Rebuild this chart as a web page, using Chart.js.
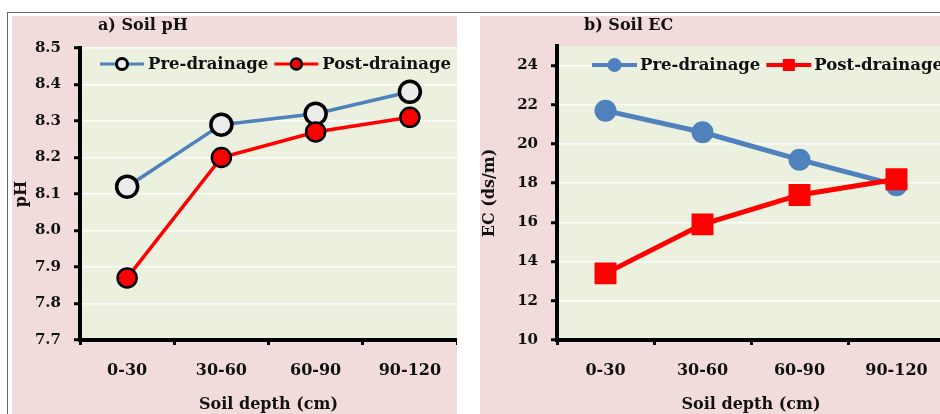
<!DOCTYPE html>
<html>
<head>
<meta charset="utf-8">
<script src="https://cdn.jsdelivr.net/npm/chart.js@4.4.0/dist/chart.umd.min.js"></script>
<style>
  html, body { margin: 0; padding: 0; background: #fff; width: 940px; height: 414px; overflow: hidden; }
  .frame { position: absolute; left: 7px; top: 12px; width: 940px; height: 410px; border-top: 1px solid #666; border-left: 1px solid #666; }
  .panel { position: absolute; top: 16px; height: 398px; background: #f2dcdb; }
  #panelA { left: 12px; width: 445px; }
  #panelB { left: 480px; width: 465px; }
</style>
</head>
<body>
<div class="frame"></div>
<div class="panel" id="panelA"><canvas id="phChart" width="445" height="398"></canvas></div>
<div class="panel" id="panelB"><canvas id="ecChart" width="465" height="398"></canvas></div>

<script>
const depths = ['0-30', '30-60', '60-90', '90-120'];
const seriesNames = ['Pre-drainage', 'Post-drainage'];

const phPre = [8.12, 8.29, 8.32, 8.38];
const phPost = [7.87, 8.20, 8.27, 8.31];
const phTicks = [7.7, 7.8, 7.9, 8.0, 8.1, 8.2, 8.3, 8.4, 8.5];

const ecPre = [21.7, 20.6, 19.2, 17.9];
const ecPost = [13.4, 15.9, 17.4, 18.2];
const ecTicks = [10, 12, 14, 16, 18, 20, 22, 24];

const titles = ['a) Soil pH', 'b) Soil EC'];
const xTitle = 'Soil depth (cm)';

const serif = 'DejaVu Serif';

// light green plot area
const plotBg = {
    id: 'plotBg',
    beforeDraw(chart) {
        const { ctx, chartArea: a } = chart;
        ctx.save();
        ctx.fillStyle = '#ebf1de';
        ctx.fillRect(a.left, a.top, a.right - a.left, a.bottom - a.top);
        ctx.restore();
    }
};

function drawMarker(ctx, ds, x, y, r) {
    ctx.fillStyle = ds.pointBackgroundColor;
    ctx.strokeStyle = ds.pointBorderColor;
    ctx.lineWidth = ds.legendBorder;
    ctx.beginPath();
    if (ds.pointStyle === 'rect') {
        ctx.rect(x - r, y - r, 2 * r, 2 * r);
    } else {
        ctx.arc(x, y, r, 0, Math.PI * 2);
    }
    ctx.fill();
    if (ds.legendBorder > 0) ctx.stroke();
}

// legend inside the plot area: line + marker + label
const lineLegend = {
    id: 'lineLegend',
    afterDatasetsDraw(chart, args, opts) {
        const { ctx, chartArea: a } = chart;
        ctx.save();
        ctx.font = 'bold ' + opts.size + 'px "' + serif + '"';
        ctx.textBaseline = 'middle';
        let x = a.left + opts.left;
        const y = a.top + opts.top;
        chart.data.datasets.forEach(ds => {
            ctx.strokeStyle = ds.borderColor;
            ctx.lineWidth = ds.legendLine;
            ctx.beginPath();
            ctx.moveTo(x, y);
            ctx.lineTo(x + opts.lineLen, y);
            ctx.stroke();
            drawMarker(ctx, ds, x + opts.lineLen / 2, y, ds.legendRadius);
            x += opts.lineLen + opts.gap;
            ctx.fillStyle = '#111';
            ctx.fillText(ds.label, x, y + 1);
            x += ctx.measureText(ds.label).width + opts.itemGap;
        });
        ctx.restore();
    }
};

const panelTitle = {
    id: 'panelTitle',
    afterDraw(chart, args, opts) {
        const { ctx, chartArea: a } = chart;
        ctx.save();
        ctx.font = 'bold 16px "' + serif + '"';
        ctx.textBaseline = 'middle';
        ctx.fillStyle = '#111';
        ctx.fillText(opts.text, a.left + opts.left, opts.y);
        ctx.restore();
    }
};

function makeScales(ticks, yMin, yMax, yLabel, yWidth, fmt) {
    return {
        x: {
            offset: true,
            afterFit: s => {
                s.height = 74;
                s.paddingLeft = 0;
                s.paddingRight = 0;
            },
            border: { color: '#000', width: 4 },
            grid: { offset: true, drawOnChartArea: false, tickColor: '#000', tickWidth: 3, tickLength: 5 },
            ticks: {
                color: '#111', padding: 16, maxRotation: 0, autoSkip: false,
                font: { family: serif, weight: 'bold', size: 16 }
            },
            title: {
                display: true, text: xTitle, color: '#111', padding: { top: 12, bottom: 0 },
                font: { family: serif, weight: 'bold', size: 16 }
            }
        },
        y: {
            min: yMin,
            max: yMax,
            afterBuildTicks: s => { s.ticks = ticks.map(v => ({ value: v })); },
            afterFit: s => { s.width = yWidth; },
            border: { color: '#000', width: 4 },
            grid: { color: 'rgba(255,255,255,0.9)', lineWidth: 1.5, tickColor: '#000', tickWidth: 3, tickLength: 6 },
            ticks: {
                color: '#111', padding: 13,
                font: { family: serif, weight: 'bold', size: 15 },
                callback: fmt
            },
            title: {
                display: true, text: yLabel, color: '#111', padding: 0,
                font: { family: serif, weight: 'bold', size: 16 }
            }
        }
    };
}

new Chart(document.getElementById('phChart'), {
    type: 'line',
    data: {
        labels: depths,
        datasets: [
            {
                label: seriesNames[0],
                data: phPre,
                order: 1,
                borderColor: '#4f81bd',
                borderWidth: 3.5,
                pointRadius: 10.5,
                pointBackgroundColor: '#ececec',
                pointBorderColor: '#000',
                pointBorderWidth: 3.5,
                legendLine: 3,
                legendRadius: 5.5,
                legendBorder: 3
            },
            {
                label: seriesNames[1],
                data: phPost,
                order: 0,
                borderColor: '#ff0000',
                borderWidth: 3.5,
                pointRadius: 9.5,
                pointBackgroundColor: '#ff0000',
                pointBorderColor: '#000',
                pointBorderWidth: 2.5,
                legendLine: 3,
                legendRadius: 5.5,
                legendBorder: 2.5
            }
        ]
    },
    options: {
        responsive: false,
        animation: false,
        devicePixelRatio: 1,
        layout: { autoPadding: false, padding: { top: 32, left: 0, right: 0, bottom: 0 } },
        scales: makeScales(phTicks, 7.7, 8.5, 'pH', 68, v => v.toFixed(1)),
        plugins: {
            legend: { display: false },
            tooltip: { enabled: false },
            lineLegend: { left: 20, top: 16, lineLen: 44, gap: 4, itemGap: 6, size: 16.5 },
            panelTitle: { text: titles[0], left: 18, y: 10 }
        }
    },
    plugins: [plotBg, lineLegend, panelTitle]
});

new Chart(document.getElementById('ecChart'), {
    type: 'line',
    data: {
        labels: depths,
        datasets: [
            {
                label: seriesNames[0],
                data: ecPre,
                order: 1,
                borderColor: '#4f81bd',
                borderWidth: 5,
                pointRadius: 11,
                pointStyle: 'circle',
                pointBackgroundColor: '#4f81bd',
                pointBorderColor: '#4f81bd',
                pointBorderWidth: 0,
                legendLine: 4,
                legendRadius: 7,
                legendBorder: 0
            },
            {
                label: seriesNames[1],
                data: ecPost,
                order: 0,
                borderColor: '#ff0000',
                borderWidth: 5,
                pointRadius: 15.5,
                pointStyle: 'rect',
                pointBackgroundColor: '#ff0000',
                pointBorderColor: '#ff0000',
                pointBorderWidth: 0,
                legendLine: 4,
                legendRadius: 6,
                legendBorder: 0
            }
        ]
    },
    options: {
        responsive: false,
        animation: false,
        devicePixelRatio: 1,
        layout: { autoPadding: false, padding: { top: 30, left: 0, right: 0, bottom: 0 } },
        scales: makeScales(ecTicks, 10, 25, 'EC (ds/m)', 77, v => String(v)),
        plugins: {
            legend: { display: false },
            tooltip: { enabled: false },
            lineLegend: { left: 35, top: 19, lineLen: 45, gap: 3, itemGap: 6, size: 16.5 },
            panelTitle: { text: titles[1], left: 27, y: 10 }
        }
    },
    plugins: [plotBg, lineLegend, panelTitle]
});
</script>
</body>
</html>
